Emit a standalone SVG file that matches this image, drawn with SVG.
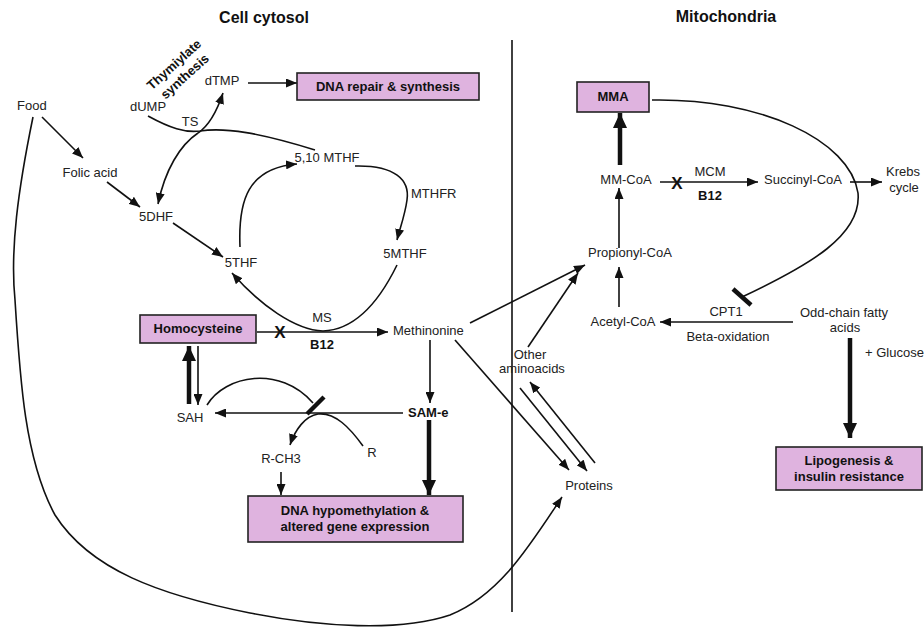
<svg xmlns="http://www.w3.org/2000/svg" width="924" height="630" viewBox="0 0 924 630">
<defs>
<style>
text{font-family:"Liberation Sans",Arial,sans-serif;font-size:13px;fill:#222}
.b{font-weight:bold;fill:#111}
.t{font-weight:bold;font-size:16px;fill:#111}
.m{text-anchor:middle}
.x{font-weight:bold;font-size:17px;fill:#111;text-anchor:middle}
.box{fill:#dfb3df;stroke:#222;stroke-width:1.6}
.ln{fill:none;stroke:#111;stroke-width:1.6}
.a{marker-end:url(#ah)}
.k{fill:none;stroke:#111;stroke-width:4.5;marker-end:url(#ahk)}
.bar{stroke:#111;stroke-width:4.5;fill:none}
</style>
<marker id="ah" markerWidth="11" markerHeight="9" refX="11" refY="4.5" orient="auto" markerUnits="userSpaceOnUse"><path d="M0,0 L11,4.5 L0,9 z" fill="#111"/></marker>
<marker id="ahk" markerWidth="15" markerHeight="14" refX="15" refY="7" orient="auto" markerUnits="userSpaceOnUse"><path d="M0,0 L15,7 L0,14 z" fill="#111"/></marker>
</defs>
<rect width="924" height="630" fill="#fff"/>
<g id="titles">
<text class="t m" x="264" y="23">Cell cytosol</text>
<text class="t m" x="726" y="22">Mitochondria</text>
</g>
<line id="divider" x1="512" y1="40" x2="512" y2="612" stroke="#111" stroke-width="1.6"/>
<g id="connectors">
<path class="ln a" d="M42,117 L83,158"/>
<path class="ln a" d="M107,182 L140,207"/>
<path class="ln a" d="M173,223 L223,257"/>
<path class="ln" d="M148,116 C170,128 185,133 200,131 C225,127 260,133 315,150"/>
<path class="ln a" d="M198,133 C210,125 218,108 223,93"/>
<path class="ln a" d="M198,133 C180,145 165,170 158,204"/>
<path class="ln a" d="M248,83 L297,83"/>
<path class="ln a" d="M240,247 C238,200 248,168 297,164"/>
<path class="ln a" d="M355,166 C395,165 410,180 407,200 C405,215 400,228 397,240"/>
<path class="ln a" d="M397,265 C375,310 350,330 323,331 C295,330 260,305 232,273"/>
<path class="ln a" d="M257,332 L388,332"/>
<path class="k" d="M189,404 L189,346"/>
<path class="ln a" d="M198,346 L198,405"/>
<path class="ln a" d="M430,340 L430,403"/>
<path class="ln a" d="M403,413 L215,413"/>
<path class="ln" d="M207,405 C225,375 280,365 313,403"/>
<line class="bar" x1="307" y1="414" x2="324" y2="397"/>
<path class="ln a" d="M363,446 C350,428 335,412 318,414 C305,416 295,430 290,445"/>
<path class="ln a" d="M281,472 L281,495"/>
<path class="k" d="M429,420 L429,495"/>
<path class="ln a" d="M470,323 L585,265"/>
<path class="ln a" d="M528,347 L578,273"/>
<path class="ln a" d="M455,340 L569,470"/>
<path class="ln a" d="M520,388 L587,471"/>
<path class="ln a" d="M595,463 L530,382"/>
<path class="ln a" d="M33,117 C18,190 10,250 15,300 C20,380 25,460 55,515 C90,570 160,595 250,613 C320,627 400,632 450,615 C500,595 530,545 562,497"/>
<path class="k" d="M620,165 L620,113"/>
<path class="ln a" d="M619,248 L619,188"/>
<path class="ln a" d="M619,307 L619,267"/>
<path class="ln a" d="M660,182 L758,182"/>
<path class="ln a" d="M850,182 L882,182"/>
<path class="ln" d="M652,100 C760,98 850,140 858,193 C862,235 810,265 742,297"/>
<line class="bar" x1="733" y1="289" x2="751" y2="305"/>
<path class="ln a" d="M793,322 L660,322"/>
<path class="k" d="M850,338 L850,438"/>
</g>
<g id="marks">
<text class="x" x="280" y="338">X</text>
<text class="x" x="677" y="189">X</text>
</g>
<g id="n-thym"><g transform="translate(179,70) rotate(-42)"><text class="b m" x="0" y="-3" style="font-size:13px">Thymiylate</text><text class="b m" x="0" y="13" style="font-size:13px">synthesis</text></g></g>
<g id="n-food"><text x="17" y="110">Food</text></g>
<g id="n-folic"><text class="m" x="90" y="177">Folic acid</text></g>
<g id="n-5dhf"><text class="m" x="156" y="221">5DHF</text></g>
<g id="n-dump"><text class="m" x="148" y="111">dUMP</text></g>
<g id="n-ts"><text class="m" x="190" y="126">TS</text></g>
<g id="n-dtmp"><text class="m" x="222" y="85">dTMP</text></g>
<g id="n-dnarep"><rect class="box" x="297" y="73" width="182" height="27"/><text class="b m" x="388" y="91">DNA repair &amp; synthesis</text></g>
<g id="n-510mthf"><text class="m" x="327" y="162">5,10 MTHF</text></g>
<g id="n-mthfr"><text x="411" y="198">MTHFR</text></g>
<g id="n-5mthf"><text class="m" x="405" y="258">5MTHF</text></g>
<g id="n-5thf"><text class="m" x="241" y="267">5THF</text></g>
<g id="n-hcy"><rect class="box" x="140" y="315" width="116" height="28"/><text class="b m" x="198" y="333">Homocysteine</text></g>
<g id="n-ms"><text class="m" x="322" y="322">MS</text><text class="b m" x="322" y="349">B12</text></g>
<g id="n-met"><text x="393" y="335">Methinonine</text></g>
<g id="n-sah"><text class="m" x="190" y="422">SAH</text></g>
<g id="n-same"><text class="b" x="408" y="417">SAM-e</text></g>
<g id="n-rch3"><text class="m" x="281" y="463">R-CH3</text></g>
<g id="n-r"><text class="m" x="372" y="457">R</text></g>
<g id="n-dnahypo"><rect class="box" x="248" y="496" width="215" height="46"/><text class="b m" x="355" y="515">DNA hypomethylation &amp;</text><text class="b m" x="355" y="531">altered gene expression</text></g>
<g id="n-otheraa"><text class="m" x="530" y="359">Other</text><text class="m" x="532" y="373">aminoacids</text></g>
<g id="n-proteins"><text class="m" x="589" y="490">Proteins</text></g>
<g id="n-mma"><rect class="box" x="577" y="82" width="72" height="30"/><text class="b m" x="613" y="101">MMA</text></g>
<g id="n-mmcoa"><text class="m" x="626" y="184">MM-CoA</text></g>
<g id="n-mcm"><text class="m" x="710" y="176">MCM</text><text class="b m" x="710" y="200">B12</text></g>
<g id="n-succ"><text class="m" x="803" y="184">Succinyl-CoA</text></g>
<g id="n-krebs"><text class="m" x="903" y="176">Krebs</text><text class="m" x="904" y="192">cycle</text></g>
<g id="n-prop"><text class="m" x="630" y="257">Propionyl-CoA</text></g>
<g id="n-acetyl"><text class="m" x="623" y="326">Acetyl-CoA</text></g>
<g id="n-cpt1"><text class="m" x="726" y="316">CPT1</text><text class="m" x="728" y="341">Beta-oxidation</text></g>
<g id="n-odd"><text class="m" x="844" y="317">Odd-chain fatty</text><text class="m" x="845" y="332">acids</text></g>
<g id="n-glucose"><text x="865" y="357">+ Glucose</text></g>
<g id="n-lipo"><rect class="box" x="776" y="447" width="146" height="43"/><text class="b m" x="849" y="465">Lipogenesis &amp;</text><text class="b m" x="849" y="481">insulin resistance</text></g>
</svg>
